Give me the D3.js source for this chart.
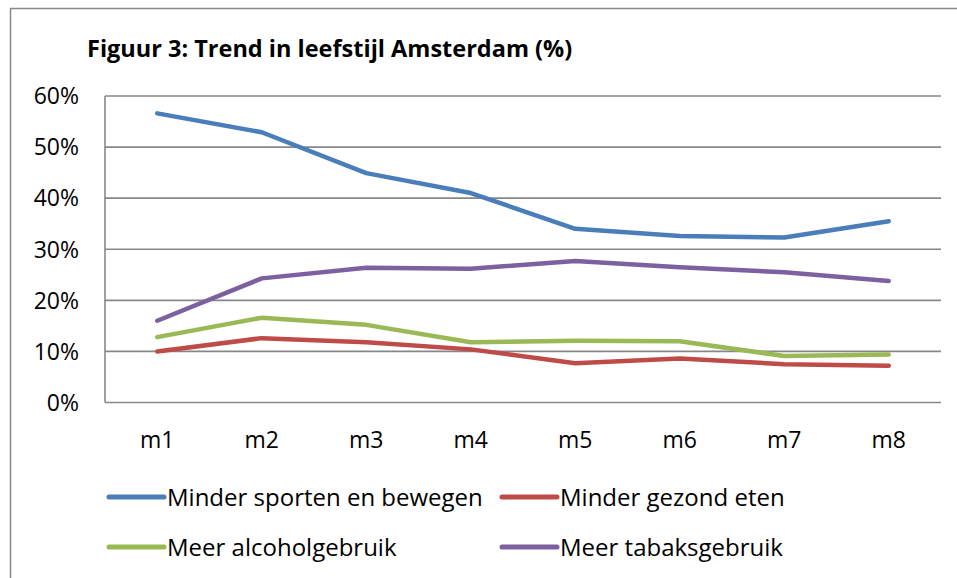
<!DOCTYPE html>
<html>
<head>
<meta charset="utf-8">
<script src="https://cdn.jsdelivr.net/npm/d3@7"></script>
<style>
  body { margin: 0; background: #fff; }
  text { font-family: "Open Sans", "DejaVu Sans", sans-serif; fill: #000; }
</style>
</head>
<body>
<svg id="chart" width="957" height="578"></svg>
<script>
const months = ["m1", "m2", "m3", "m4", "m5", "m6", "m7", "m8"];
const yTicks = [0, 10, 20, 30, 40, 50, 60];

const sporten = [56.6, 52.9, 44.9, 41.0, 34.0, 32.6, 32.3, 35.5];
const gezond = [10.0, 12.6, 11.8, 10.4, 7.7, 8.6, 7.5, 7.2];
const alcohol = [12.8, 16.6, 15.2, 11.8, 12.1, 12.0, 9.1, 9.4];
const tabak = [16.0, 24.3, 26.4, 26.2, 27.7, 26.5, 25.5, 23.8];

const series = [
  { name: "Minder sporten en bewegen", values: sporten, color: "#4a7ebb" },
  { name: "Minder gezond eten", values: gezond, color: "#be4b48" },
  { name: "Meer alcoholgebruik", values: alcohol, color: "#98b954" },
  { name: "Meer tabaksgebruik", values: tabak, color: "#7d60a0" }
];

const svg = d3.select("#chart");

// outer frame
svg.append("rect")
  .attr("x", 10.5).attr("y", 8.5)
  .attr("width", 1000).attr("height", 1000)
  .attr("fill", "none").attr("stroke", "#888").attr("stroke-width", 1.5);

svg.append("text")
  .attr("x", 87).attr("y", 57)
  .attr("font-size", 23.5).attr("font-weight", "bold")
  .text("Figuur 3: Trend in leefstijl Amsterdam (%)");

const plot = { left: 105, right: 941, top: 96, bottom: 402.5 };

const x = d3.scalePoint().domain(months)
  .range([plot.left, plot.right]).padding(0.5);
const y = d3.scaleLinear().domain([0, 60]).range([plot.bottom, plot.top]);

// gridlines
svg.append("g").selectAll("line").data(yTicks).join("line")
  .attr("x1", plot.left).attr("x2", plot.right)
  .attr("y1", d => y(d)).attr("y2", d => y(d))
  .attr("stroke", "#878787").attr("stroke-width", 1.6);

svg.append("line")
  .attr("x1", plot.left).attr("x2", plot.left)
  .attr("y1", plot.top).attr("y2", plot.bottom)
  .attr("stroke", "#878787").attr("stroke-width", 1.6);

// y labels
svg.append("g").selectAll("text").data(yTicks).join("text")
  .attr("x", 79).attr("y", d => y(d))
  .attr("dy", "0.36em")
  .attr("text-anchor", "end")
  .attr("font-size", 23)
  .text(d => d + "%");

// x labels
svg.append("g").selectAll("text").data(months).join("text")
  .attr("x", d => x(d)).attr("y", 440)
  .attr("dy", "0.36em")
  .attr("text-anchor", "middle")
  .attr("font-size", 23)
  .text(d => d);

const line = d3.line()
  .x((d, i) => x(months[i]))
  .y(d => y(d));

svg.append("g").selectAll("path").data(series).join("path")
  .attr("d", d => line(d.values))
  .attr("fill", "none")
  .attr("stroke", d => d.color)
  .attr("stroke-width", 4.5)
  .attr("stroke-linejoin", "round")
  .attr("stroke-linecap", "round");

// legend
const legendPos = [[109, 497], [502, 497], [109, 547], [502, 547]];
const legend = svg.append("g").selectAll("g").data(series).join("g")
  .attr("transform", (d, i) => `translate(${legendPos[i][0]},${legendPos[i][1]})`);

legend.append("line")
  .attr("x1", 0).attr("x2", 55)
  .attr("stroke", d => d.color)
  .attr("stroke-width", 5)
  .attr("stroke-linecap", "round");

legend.append("text")
  .attr("x", 58).attr("dy", "0.36em")
  .attr("font-size", 24)
  .text(d => d.name);
</script>
</body>
</html>
